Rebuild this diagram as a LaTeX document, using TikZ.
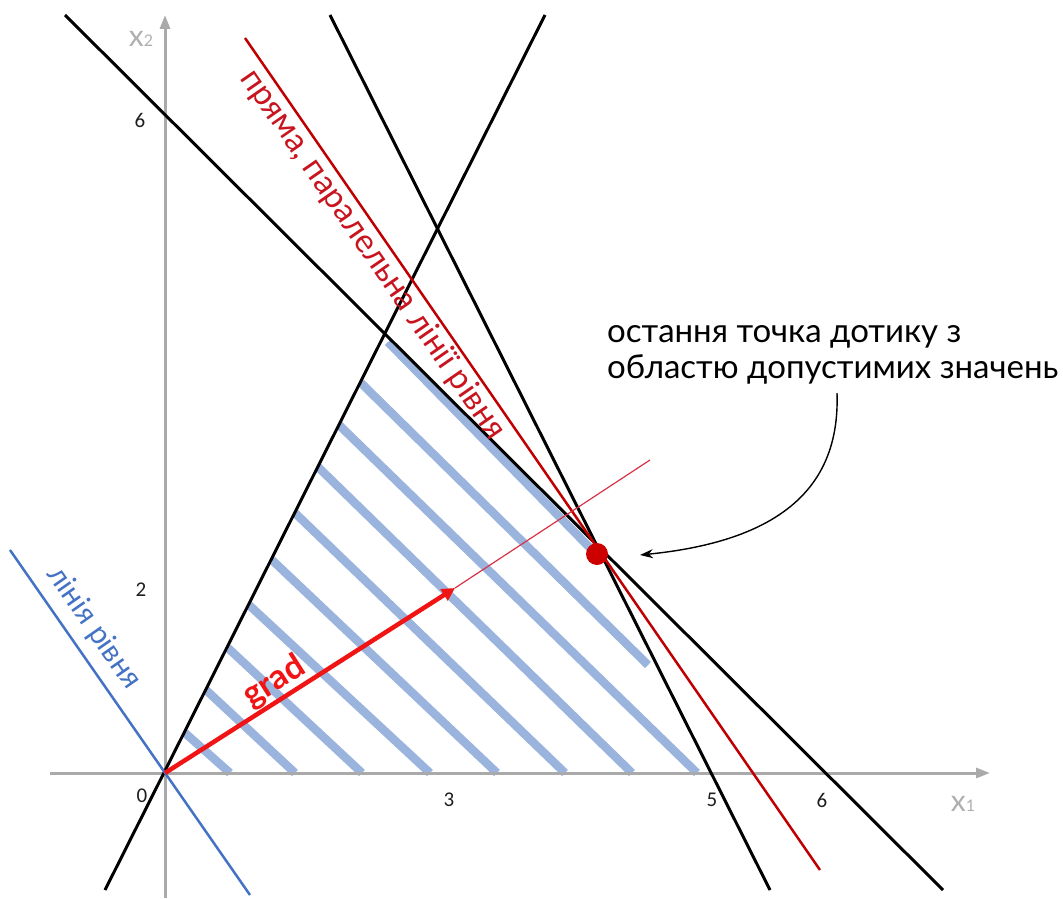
\documentclass[tikz,border=0pt]{standalone}
\usepackage{fontspec}
\setmainfont{Lato}
\newfontfamily\numfont{Carlito}
\usetikzlibrary{arrows.meta}
\definecolor{axisgray}{RGB}{170,170,170}
\definecolor{labgray}{RGB}{175,175,175}
\definecolor{hatchblue}{RGB}{155,180,222}
\definecolor{levelblue}{RGB}{68,114,196}
\definecolor{darkred}{RGB}{192,0,0}
\definecolor{textred}{RGB}{200,20,30}
\definecolor{dotred}{RGB}{205,0,0}
\definecolor{gradred}{RGB}{240,20,20}
\definecolor{thinred}{RGB}{215,50,70}
\definecolor{numcol}{RGB}{30,30,30}
\begin{document}
\begin{tikzpicture}[x=1pt,y=-1pt,
  axis/.style={draw=axisgray,line width=3pt,-{Triangle[length=14pt,width=10pt]}},
  bline/.style={draw=black,line width=3pt},
  hatchline/.style={draw=hatchblue,line width=8.5pt},
  num/.style={font=\numfont\fontsize{21}{21}\selectfont,text=numcol,inner sep=0pt},
  axlabel/.style={text=labgray,inner sep=0pt},
  rtext/.style={text=textred,inner sep=2pt,font=\fontsize{33}{33}\selectfont},
  btext/.style={text=levelblue,inner sep=2pt,font=\fontsize{30}{30}\selectfont},
  gtext/.style={text=gradred,inner sep=2pt,font=\bfseries\fontsize{34}{34}\selectfont},
  anntext/.style={text=black,inner sep=0pt,font=\fontsize{33}{36}\selectfont}]
\useasboundingbox (0,0) rectangle (1063,899);
% coordinates
\coordinate (O) at (165,773);
\coordinate (xa0) at (50,773);
\coordinate (xa1) at (990,773);
\coordinate (ya0) at (165,898);
\coordinate (ya1) at (165,15);
\coordinate (l1a) at (65,15);
\coordinate (l1b) at (943,890);
\coordinate (l2a) at (330,15);
\coordinate (l2b) at (770,890);
\coordinate (l3a) at (105,890);
\coordinate (l3b) at (545,15);
\coordinate (ra) at (245,38);
\coordinate (rb) at (820,870);
\coordinate (ba) at (10,550);
\coordinate (bb) at (250,895);
\coordinate (gtip) at (455,588);
\coordinate (gend) at (650,460);
\coordinate (annstart) at (837,393);
\coordinate (annend) at (640,555);
% hatching
\draw[hatchline] (185,733) -- (230,773);
\draw[hatchline] (206,690) -- (295,773);
\draw[hatchline] (228,648) -- (362,773);
\draw[hatchline] (249,605) -- (430,773);
\draw[hatchline] (272,560) -- (497,773);
\draw[hatchline] (295,513) -- (565,773);
\draw[hatchline] (318,467) -- (632,773);
\draw[hatchline] (339,425) -- (697,773);
\draw[hatchline] (361,383) -- (648,665);
\draw[hatchline] (388,342) -- (592,550);
% axes
\draw[axis] (xa0) -- (xa1);
\draw[axis] (ya0) -- (ya1);
% constraint lines
\draw[bline] (l1a) -- (l1b);
\draw[bline] (l2a) -- (l2b);
\draw[bline] (l3a) -- (l3b);
% level line
\draw[draw=levelblue,line width=2.5pt] (ba) -- (bb);
% parallel red line
\draw[draw=darkred,line width=2.5pt] (ra) -- (rb);
% gradient
\draw[draw=thinred,line width=1.2pt] (gtip) -- (gend);
\draw[draw=gradred,line width=4.5pt,-{Triangle[length=13pt,width=13pt]}] (O) -- (gtip);
% optimum point
\fill[dotred] (597,554) circle (11);
\node[circle,inner sep=0pt,minimum size=22pt] (opt) at (597,554) {};
% annotation
\node[anntext,anchor=base west] (ann1) at (607,342) {остання точка дотику з};
\node[anntext,anchor=base west] (ann2) at (607,378) {областю допустимих значень};
\draw[line width=1.4pt,-{Stealth[length=13pt,width=9pt]}] (annstart) .. controls (840,480) and (790,540) .. (annend);
% rotated labels
\node[rtext,anchor=north,rotate=-55.35] (rlab) at (387,245) {пряма, паралельна лінії рівня};
\node[btext,anchor=south,rotate=-55.2] (blab) at (81,637) {лінія рівня};
\node[gtext,anchor=south,rotate=32.5] (glab) at (284,697) {grad};
% axis numbers
\node[num] (n6y) at (140,120) {6};
\node[num] (n2y) at (141,590) {2};
\node[num] (n0) at (142,796) {0};
\node[num] (n3) at (449,800) {3};
\node[num] (n5) at (712,800) {5};
\node[num] (n6x) at (822,800) {6};
% axis names
\node[axlabel] (x2lab) at (141,39) {{\fontsize{30}{30}\selectfont x}{\fontsize{16}{16}\selectfont 2}};
\node[axlabel] (x1lab) at (963,804) {{\fontsize{30}{30}\selectfont x}{\fontsize{16}{16}\selectfont 1}};
\end{tikzpicture}
\end{document}
